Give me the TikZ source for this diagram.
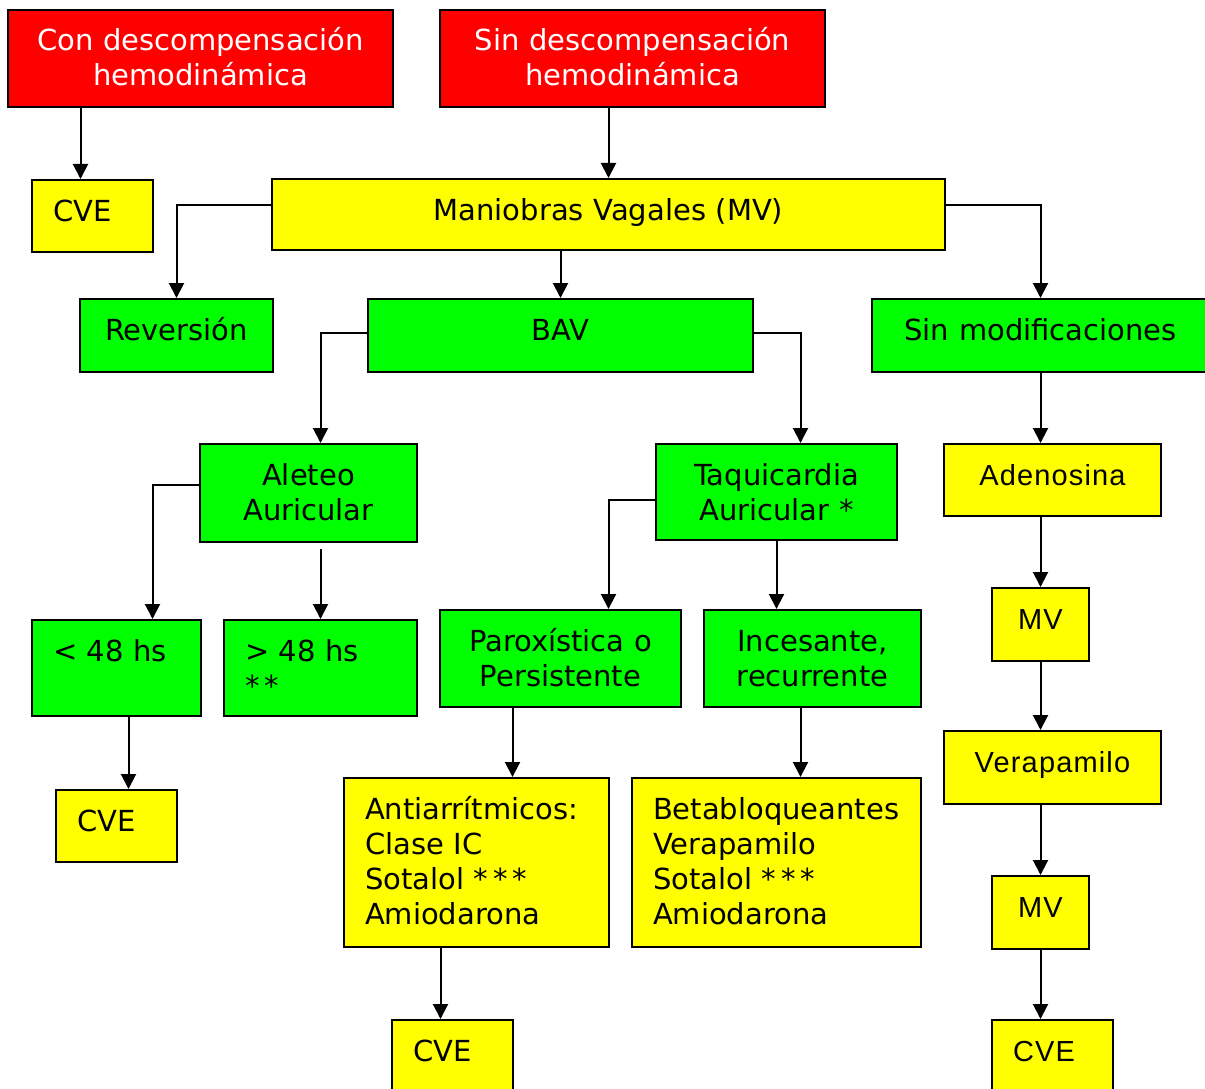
\documentclass[tikz,border=0pt]{standalone}
\usepackage{fontspec}
\setmainfont{DejaVu Sans}
\newfontfamily\arialfont[LetterSpace=4]{Liberation Sans}
\usetikzlibrary{arrows.meta,calc}
\definecolor{rojo}{RGB}{255,0,0}
\definecolor{amarillo}{RGB}{255,255,0}
\definecolor{verde}{RGB}{0,255,0}
\newcommand{\estr}{*\kern5pt}
\tikzset{cbox/.style 2 args={draw, line width=2pt, anchor=north west, inner xsep=8pt, inner ysep=0pt,
           text width=#1-16pt, text height=41pt, text depth=#2-41pt, align=center,
           font=\fontsize{29}{35}\selectfont},
         lbox/.style 2 args={cbox={#1}{#2}, inner xsep=21pt, text width=#1-42pt, align=left},
         ari/.style={font=\arialfont\fontsize{29}{35}\selectfont},
         arr/.style={-{Triangle[width=15pt,length=15pt]}, line width=2pt}}

\begin{document}
\begin{tikzpicture}[x=1pt,y=-1pt]
\path[use as bounding box, fill=white] (0,0) rectangle (1205,1089);
\node[cbox={385}{97}, fill=rojo, text=white] (condesc) at (7,9) {Con descompensación\\hemodinámica};
\node[cbox={385}{97}, fill=rojo, text=white] (sindesc) at (439,9) {Sin descompensación\\hemodinámica};
\node[lbox={121}{72}, fill=amarillo] (cvea) at (31,179) {CVE};
\node[cbox={673}{71}, fill=amarillo] (mv) at (271,178) {Maniobras Vagales (MV)};
\node[cbox={193}{73}, fill=verde] (rev) at (79,298) {Reversión};
\node[cbox={385}{73}, fill=verde] (bav) at (367,298) {BAV};
\node[cbox={337}{73}, fill=verde] (sinmod) at (871,298) {Sin modificaciones};
\node[cbox={217}{98}, fill=verde] (ale) at (199,443) {Aleteo\\Auricular};
\node[cbox={241}{96}, fill=verde] (taq) at (655,443) {Taquicardia\\Auricular *};
\node[cbox={217}{72}, fill=amarillo, ari] (ade) at (943,443) {Adenosina};
\node[lbox={169}{96}, fill=verde] (men) at (31,619) {< 48 hs};
\node[lbox={193}{96}, fill=verde] (mas) at (223,619) {> 48 hs\\[0pt]\estr\estr};
\node[cbox={241}{97}, fill=verde] (par) at (439,609) {Paroxística o\\Persistente};
\node[cbox={217}{97}, fill=verde] (inc) at (703,609) {Incesante,\\recurrente};
\node[cbox={97}{73}, fill=amarillo, ari] (mva) at (991,587) {MV};
\node[lbox={121}{72}, fill=amarillo] (cveb) at (55,789) {CVE};
\node[lbox={265}{169}, fill=amarillo] (anti) at (343,777) {Antiarrítmicos:\\Clase IC\\Sotalol \estr\estr\estr\\Amiodarona};
\node[lbox={289}{169}, fill=amarillo] (beta) at (631,777) {Betabloqueantes\\Verapamilo\\Sotalol \estr\estr\estr\\Amiodarona};
\node[cbox={217}{73}, fill=amarillo, ari] (vera) at (943,730) {Verapamilo};
\node[cbox={97}{73}, fill=amarillo, ari] (mvb) at (991,875) {MV};
\node[lbox={121}{72}, fill=amarillo] (cvec) at (391,1019) {CVE};
\node[lbox={121}{72}, fill=amarillo, ari] (cved) at (991,1019) {CVE};
\draw[arr] ([xshift=-12pt]cvea.north |- condesc.south) -- ([xshift=-12pt]cvea.north);
\draw[arr] (sindesc.south -| mv.north) -- (mv.north);
\draw[arr] ([yshift=10pt]mv.west) -| (rev.north);
\draw[arr] (mv.south -| bav.north) -- (bav.north);
\draw[arr] ([yshift=10pt]mv.east) -| (sinmod.north);
\draw[arr] ([yshift=3pt]bav.west) -| (mas.north |- ale.north);
\draw[arr] ([yshift=3pt]bav.east) -| ([xshift=24pt]taq.north);
\draw[arr] (sinmod.south) -- (sinmod.south |- ade.north);
\draw[arr] ([yshift=8pt]ale.west) -| ([xshift=36pt]men.north);
\draw[arr] ($(mas.north |- ale.south)+(0,6)$) -- (mas.north);
\draw[arr] ([yshift=-8pt]taq.west) -| ([xshift=48pt]par.north);
\draw[arr] (taq.south) -- (taq.south |- inc.north);
\draw[arr] (ade.south -| mva.north) -- (mva.north);
\draw[arr] (mva.south) -- (mva.south |- vera.north);
\draw[arr] (vera.south -| mvb.north) -- (mvb.north);
\draw[arr] (mvb.south) -- (mvb.south |- cved.north);
\draw[arr] ([xshift=12pt]men.south) -- ([xshift=12pt]men.south |- cveb.north);
\draw[arr] ([xshift=-48pt]par.south) -- ([xshift=-48pt]par.south |- anti.north);
\draw[arr] ([xshift=-12pt]inc.south) -- ([xshift=-12pt]inc.south |- beta.north);
\draw[arr] ([xshift=-12pt]cvec.north |- anti.south) -- ([xshift=-12pt]cvec.north);
\end{tikzpicture}
\end{document}
